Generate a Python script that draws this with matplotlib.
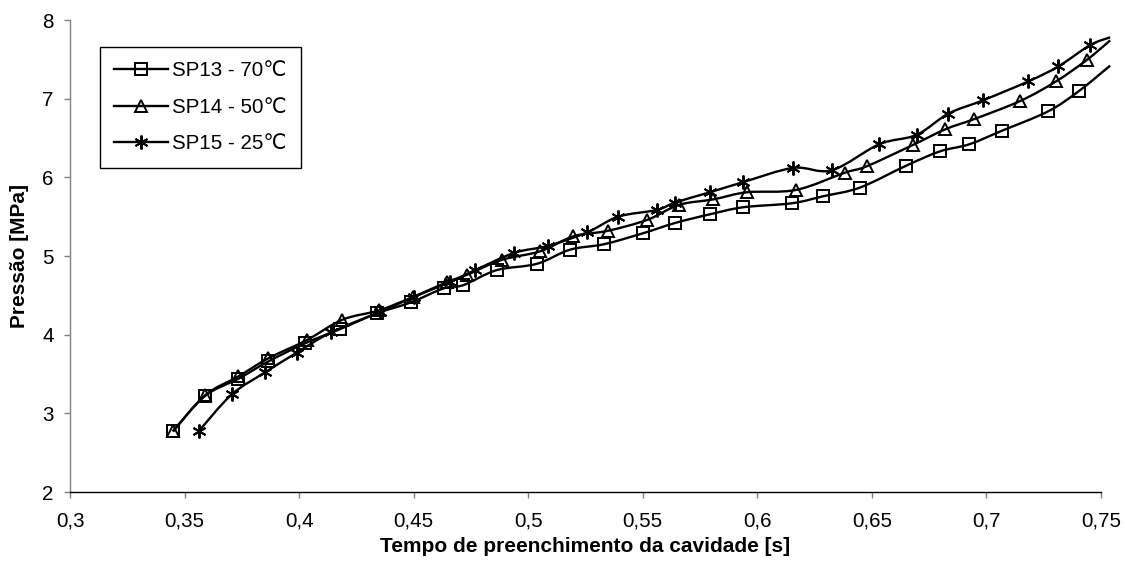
import matplotlib
matplotlib.use("Agg")
import matplotlib.pyplot as plt
from matplotlib.path import Path
from matplotlib.patches import PathPatch
from matplotlib.lines import Line2D
import numpy as np

plt.rcParams['font.family'] = ['Liberation Sans', 'DejaVu Sans']

# ---------------- data ----------------
labels = ["SP13 - 70\u2103", "SP14 - 50\u2103", "SP15 - 25\u2103"]

sp13_x = [0.3448, 0.3589, 0.3735, 0.3866, 0.4026, 0.4178, 0.4339, 0.4487, 0.4632, 0.4717,
          0.4862, 0.5037, 0.5182, 0.5331, 0.5502, 0.5641, 0.5793, 0.5939, 0.6150, 0.6288,
          0.6448, 0.6651, 0.6797, 0.6925, 0.7066, 0.7270, 0.7405, 0.7540]
sp13_y = [2.77, 3.22, 3.44, 3.66, 3.89, 4.07, 4.27, 4.41, 4.59, 4.63,
          4.82, 4.90, 5.08, 5.15, 5.29, 5.42, 5.53, 5.62, 5.67, 5.76,
          5.87, 6.15, 6.33, 6.42, 6.59, 6.84, 7.10, 7.42]

sp14_x = [0.3450, 0.3590, 0.3735, 0.3866, 0.4033, 0.4189, 0.4350, 0.4498, 0.4647, 0.4731,
          0.4884, 0.5052, 0.5197, 0.5347, 0.5520, 0.5658, 0.5808, 0.5954, 0.6169, 0.6383,
          0.6477, 0.6678, 0.6820, 0.6946, 0.7147, 0.7304, 0.7437, 0.7540]
sp14_y = [2.77, 3.23, 3.47, 3.70, 3.93, 4.19, 4.31, 4.48, 4.67, 4.76,
          4.95, 5.06, 5.25, 5.32, 5.46, 5.65, 5.72, 5.81, 5.84, 6.06,
          6.14, 6.41, 6.61, 6.74, 6.97, 7.22, 7.49, 7.74]

sp15_x = [0.3564, 0.3706, 0.3851, 0.3989, 0.4140, 0.4353, 0.4501, 0.4659, 0.4768, 0.4939,
          0.5088, 0.5257, 0.5393, 0.5561, 0.5641, 0.5793, 0.5939, 0.6157, 0.6325, 0.6532,
          0.6695, 0.6834, 0.6986, 0.7183, 0.7314, 0.7452, 0.7540]
sp15_y = [2.78, 3.24, 3.52, 3.77, 4.03, 4.29, 4.48, 4.67, 4.82, 5.04,
          5.13, 5.30, 5.50, 5.585, 5.68, 5.81, 5.94, 6.12, 6.09, 6.42,
          6.54, 6.81, 6.98, 7.22, 7.41, 7.68, 7.78]

x_ticks = [0.3, 0.35, 0.4, 0.45, 0.5, 0.55, 0.6, 0.65, 0.7, 0.75]
x_tick_labels = ["0,3", "0,35", "0,4", "0,45", "0,5", "0,55", "0,6", "0,65", "0,7", "0,75"]
y_ticks = [2, 3, 4, 5, 6, 7, 8]
y_tick_labels = ["2", "3", "4", "5", "6", "7", "8"]

# ---------------- figure ----------------
W, H = 1125, 566
fig = plt.figure(figsize=(W / 100, H / 100), dpi=100)
ax = fig.add_axes([70 / W, 1 - 492 / H, 1031 / W, 472 / H])
ax.set_xlim(0.3, 0.75)
ax.set_ylim(2, 8)

LW = 1.7
MEW = 1.4


def smooth_path(xs, ys):
    pts = np.column_stack([xs, ys]).astype(float)
    n = len(pts)
    verts = [pts[0]]
    codes = [Path.MOVETO]
    for i in range(n - 1):
        p0 = pts[i - 1] if i > 0 else pts[i]
        p1 = pts[i]
        p2 = pts[i + 1]
        p3 = pts[i + 2] if i + 2 < n else pts[i + 1]
        c1 = p1 + (p2 - p0) / 6.0
        c2 = p2 - (p3 - p1) / 6.0
        verts += [c1, c2, p2]
        codes += [Path.CURVE4] * 3
    return Path(verts, codes)


series = [
    (sp13_x, sp13_y, 's', 8.5),
    (sp14_x, sp14_y, '^', 9.0),
    (sp15_x, sp15_y, (6, 2, 0), 10.0),
]

handles = []
for (xs, ys, mk, ms), lab in zip(series, labels):
    patch = PathPatch(smooth_path(xs, ys), facecolor='none', edgecolor='black',
                      lw=LW, transform=ax.transData, clip_on=False, zorder=2,
                      joinstyle='round', capstyle='butt')
    ax.add_patch(patch)
    vis = [i for i, xv in enumerate(xs) if xv <= 0.75]
    ax.plot([xs[i] for i in vis], [ys[i] for i in vis], linestyle='none', marker=mk,
            markersize=ms, markerfacecolor='none', markeredgecolor='black',
            markeredgewidth=MEW, zorder=3, clip_on=False)
    handles.append(Line2D([], [], color='black', lw=LW, marker=mk, markersize=ms,
                          markerfacecolor='none', markeredgecolor='black',
                          markeredgewidth=MEW, label=lab))

# axes styling
for s in ['top', 'right']:
    ax.spines[s].set_visible(False)
ax.spines['left'].set_color('#808080')
ax.spines['left'].set_linewidth(1.0)
ax.spines['bottom'].set_color('black')
ax.spines['bottom'].set_linewidth(1.0)

FS = 14.8
ax.set_xticks(x_ticks)
ax.set_xticklabels(x_tick_labels)
ax.set_yticks(y_ticks)
ax.set_yticklabels(y_tick_labels)
ax.tick_params(axis='y', direction='out', length=4.3, width=1, color='#808080',
               pad=7.5, labelsize=FS)
ax.tick_params(axis='x', direction='out', length=4.3, width=1, color='#808080',
               pad=10, labelsize=FS)

ax.set_xlabel("Tempo de preenchimento da cavidade [s]", fontsize=15, fontweight='bold')
ax.set_ylabel("Pressão [MPa]", fontsize=15, fontweight='bold')
ax.xaxis.label.set_va('center')
ax.yaxis.label.set_va('center')
ax.xaxis.set_label_coords(0.5, (492 - 547) / 472)
ax.yaxis.set_label_coords((20 - 70) / 1031, 0.5)

leg = ax.legend(handles=handles, loc='upper left',
                bbox_to_anchor=(100 / W, 1 - 47 / H), bbox_transform=fig.transFigure,
                borderaxespad=0, fontsize=FS, frameon=True, fancybox=False,
                framealpha=1, edgecolor='black', handlelength=2.6,
                handletextpad=0.2, labelspacing=0.85, borderpad=0.7)
leg.get_frame().set_linewidth(1.0)

fig.savefig("out.png", dpi=100, facecolor='white')
